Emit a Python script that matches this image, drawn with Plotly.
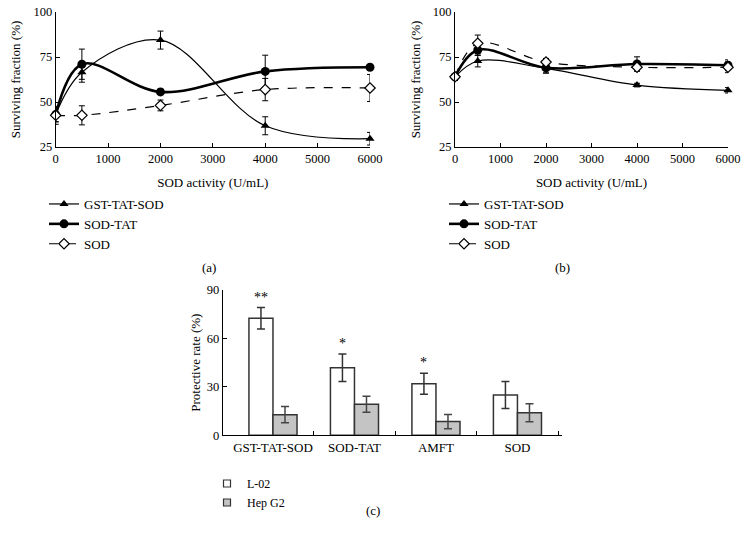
import plotly.graph_objects as go

W, H = 748, 549

# ---------- data ----------
sod_activity = [0, 500, 2000, 4000, 6000]

# panel (a)
a_gst = [43, 66.5, 84.4, 36.8, 29.6]
a_gst_err = [4, 5.5, 5, 5, 3.5]
a_sodtat = [43, 71, 55.6, 67, 69.3]
a_sodtat_err = [4, 8.4, 1.5, 9, 1]
a_sod = [42.6, 42.6, 48.1, 56.9, 57.8]
a_sod_err = [5, 5.3, 3, 6.2, 7.5]

# panel (b)
b_gst = [64, 72.8, 68.7, 59.4, 56.5]
b_gst_err = [2, 3.3, 2.5, 1, 1.5]
b_sodtat = [64, 78.9, 69, 71.1, 70.4]
b_sodtat_err = [2, 3, 3, 4, 3]
b_sod = [64, 82.6, 72.2, 69.3, 69.3]
b_sod_err = [2, 4.6, 2, 2, 3]

# panel (c)
categories = ["GST-TAT-SOD", "SOD-TAT", "AMFT", "SOD"]
l02 = [72.5, 41.9, 32.0, 25.0]
l02_err = [6.6, 8.5, 6.5, 8.4]
hepg2 = [12.8, 19.2, 8.5, 14.0]
hepg2_err = [5.0, 5.0, 4.4, 5.6]
stars = ["**", "*", "*", ""]

series_names = ["GST-TAT-SOD", "SOD-TAT", "SOD"]
bar_names = ["L-02", "Hep G2"]

FONT = "Liberation Serif"
L02_FILL, HEP_FILL, EDGE = "white", "#c4c4c4", "#333333"

def px_x(p):
    return p / W

def px_y(p):
    return 1 - p / H

fig = go.Figure()

def add_panel(xa, ya, leg, gst, gst_e, st, st_e, sd, sd_e):
    specs = [
        (series_names[0], gst, gst_e, dict(width=1.2, color="black", dash="solid"),
         dict(symbol="triangle-up", size=8, color="black")),
        (series_names[1], st, st_e, dict(width=2.6, color="black", dash="solid"),
         dict(symbol="circle", size=9, color="black")),
        (series_names[2], sd, sd_e, dict(width=1.2, color="black", dash="dash"),
         dict(symbol="diamond", size=8, color="white", line=dict(color="black", width=1.2))),
    ]
    for name, ys, es, line, marker in specs:
        fig.add_trace(go.Scatter(
            x=sod_activity, y=ys, name=name, mode="lines+markers",
            line=dict(shape="spline", smoothing=1.0, **line), marker=marker,
            error_y=dict(type="data", array=es, visible=True, color="black",
                         thickness=1, width=3),
            xaxis=xa, yaxis=ya, legend=leg, cliponaxis=False,
        ))

add_panel("x", "y", "legend", a_gst, a_gst_err, a_sodtat, a_sodtat_err, a_sod, a_sod_err)
add_panel("x2", "y2", "legend2", b_gst, b_gst_err, b_sodtat, b_sodtat_err, b_sod, b_sod_err)

xc = list(range(len(categories)))
fig.add_trace(go.Bar(
    x=xc, y=l02, name=bar_names[0], marker=dict(color=L02_FILL, line=dict(color=EDGE, width=1.5)),
    error_y=dict(type="data", array=l02_err, color="#333333", thickness=1.5, width=4),
    xaxis="x3", yaxis="y3", offsetgroup="a", showlegend=False,
))
fig.add_trace(go.Bar(
    x=xc, y=hepg2, name=bar_names[1], marker=dict(color=HEP_FILL, line=dict(color=EDGE, width=1.5)),
    error_y=dict(type="data", array=hepg2_err, color="#444444", thickness=1.5, width=4),
    xaxis="x3", yaxis="y3", offsetgroup="b", showlegend=False,
))
# small square legend keys for the bars
for nm, fill in zip(bar_names, [L02_FILL, HEP_FILL]):
    fig.add_trace(go.Scatter(
        x=[None], y=[None], name=nm, mode="markers",
        marker=dict(symbol="square", size=7, color=fill, line=dict(color=EDGE, width=1.2)),
        xaxis="x3", yaxis="y3", legend="legend3",
    ))

bar_w = 0.295
for i, s in enumerate(stars):
    if s:
        fig.add_annotation(x=i - bar_w / 2, y=l02[i] + l02_err[i] + 0.5, text=s,
                           xref="x3", yref="y3", showarrow=False, yanchor="bottom",
                           font=dict(family=FONT, size=14, color="black"))

axis_common = dict(showline=True, linecolor="black", linewidth=1, ticks="inside",
                   ticklen=4, tickcolor="black", showgrid=False, zeroline=False,
                   tickfont=dict(family=FONT, size=12.5, color="black"))

line_x = dict(range=[0, 6000], tickvals=[0, 1000, 2000, 3000, 4000, 5000, 6000],
              title=dict(text="SOD activity (U/mL)", font=dict(family=FONT, size=13, color="black"), standoff=12),
              **axis_common)
line_y = dict(range=[25, 100], tickvals=[25, 50, 75, 100],
              title=dict(text="Surviving fraction (%)", font=dict(family=FONT, size=13, color="black"), standoff=9),
              **axis_common)

legend_common = dict(font=dict(family=FONT, size=13, color="black"), bgcolor="rgba(0,0,0,0)",
                     xanchor="left", yanchor="top", tracegroupgap=0, itemwidth=30)

fig.update_layout(
    width=W, height=H, margin=dict(l=0, r=0, t=0, b=0, pad=0, autoexpand=False),
    paper_bgcolor="white", plot_bgcolor="white",
    barmode="group", bargap=0.41, bargroupgap=0,
    xaxis=dict(domain=[px_x(55.7), px_x(370)], anchor="y", **line_x),
    yaxis=dict(domain=[px_y(147), px_y(12)], anchor="x", **line_y),
    xaxis2=dict(domain=[px_x(455), px_x(728)], anchor="y2", **line_x),
    yaxis2=dict(domain=[px_y(147), px_y(12)], anchor="x2", **line_y),
    xaxis3=dict(domain=[px_x(222.7), px_x(561.7)], anchor="y3", range=[-0.617, 3.543],
                tickvals=xc, ticktext=categories, ticklen=0,
                minor=dict(tickvals=[0.5, 1.5, 2.5, 3.5], ticks="inside", ticklen=4, tickcolor="black"),
                **{k: v for k, v in axis_common.items() if k not in ("ticklen", "tickfont")},
                tickfont=dict(family=FONT, size=13, color="black")),
    yaxis3=dict(domain=[px_y(435.3), px_y(290)], anchor="x3", range=[0, 90], tickvals=[0, 30, 60, 90],
                title=dict(text="Protective rate (%)", font=dict(family=FONT, size=13, color="black"), standoff=3),
                **axis_common),
    legend=dict(x=px_x(44), y=px_y(189), **legend_common),
    legend2=dict(x=px_x(444), y=px_y(189), **legend_common),
    legend3=dict(x=px_x(207), y=px_y(469), **{**legend_common, "font": dict(family=FONT, size=12, color="black")}),
    showlegend=True,
)

for txt, x, y in [("(a)", 200, 267), ("(b)", 572, 267), ("(c)", 373, 520)]:
    fig.add_annotation(x=px_x(x), y=px_y(y), xref="paper", yref="paper", text=txt,
                       showarrow=False, font=dict(family=FONT, size=13, color="black"))

fig.write_html("out.html", config={"displayModeBar": False},
               post_script="document.body.style.margin='0';")
